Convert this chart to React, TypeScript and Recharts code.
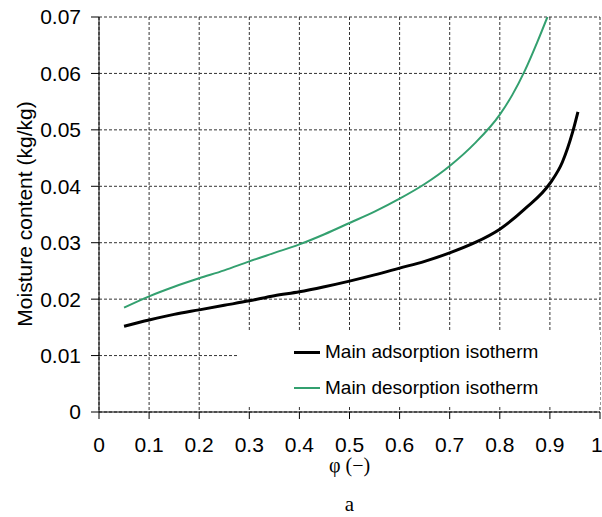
import {
  LineChart,
  Line,
  CartesianGrid,
  XAxis,
  YAxis,
  Legend,
  Label,
} from "recharts";

const adsorptionPhi = [0.05, 0.1, 0.15, 0.2, 0.25, 0.3, 0.35, 0.4, 0.45, 0.5, 0.55, 0.6, 0.65, 0.7, 0.75, 0.8, 0.85, 0.9, 0.925, 0.945, 0.956];
const adsorptionMc = [0.0152, 0.0163, 0.0173, 0.0181, 0.0189, 0.0197, 0.0206, 0.0213, 0.0222, 0.0232, 0.0243, 0.0255, 0.0267, 0.0282, 0.03, 0.0324, 0.036, 0.0405, 0.0443, 0.0495, 0.0532];

const desorptionPhi = [0.05, 0.1, 0.15, 0.2, 0.25, 0.3, 0.35, 0.4, 0.45, 0.5, 0.55, 0.6, 0.65, 0.7, 0.75, 0.8, 0.825, 0.85, 0.875, 0.895];
const desorptionMc = [0.0185, 0.0205, 0.0222, 0.0237, 0.0251, 0.0267, 0.0282, 0.0297, 0.0315, 0.0335, 0.0355, 0.0378, 0.0404, 0.0436, 0.0476, 0.0527, 0.0562, 0.0605, 0.0656, 0.07];

const xTicks = [0, 0.1, 0.2, 0.3, 0.4, 0.5, 0.6, 0.7, 0.8, 0.9, 1];
const yTicks = [0, 0.01, 0.02, 0.03, 0.04, 0.05, 0.06, 0.07];

const adsorption = adsorptionPhi.map((phi, i) => ({ phi, mc: adsorptionMc[i] }));
const desorption = desorptionPhi.map((phi, i) => ({ phi, mc: desorptionMc[i] }));

const FONT = "'Liberation Sans', Arial, sans-serif";
const GREEN = "#33a06f";

const fmtX = (v: number) => (v === 0 ? "0" : v === 1 ? "1" : v.toFixed(1));
const fmtY = (v: number) => (v === 0 ? "0" : v.toFixed(2));

// legend box sits over the lower right of the plot and hides the grid there
const IsothermLegend = () => (
  <div style={{ fontFamily: FONT, fontSize: 19, color: "#000", paddingLeft: 56, paddingTop: 9 }}>
    <div style={{ display: "flex", alignItems: "center", height: 22 }}>
      <span style={{ display: "inline-block", width: 26, height: 3, background: "#000", marginRight: 5 }} />
      Main adsorption isotherm
    </div>
    <div style={{ display: "flex", alignItems: "center", height: 22, marginTop: 14 }}>
      <span style={{ display: "inline-block", width: 26, height: 2, background: GREEN, marginRight: 5 }} />
      Main desorption isotherm
    </div>
  </div>
);

const App = () => {
  return (
    <div style={{ position: "absolute", left: 0, top: 0, background: "#fff" }}>
      <LineChart width={602} height={517} margin={{ top: 17, right: 2, bottom: 0, left: 0 }}>
        <CartesianGrid stroke="#333" strokeDasharray="3 2" />
        <XAxis
          dataKey="phi"
          type="number"
          domain={[0, 1]}
          ticks={xTicks}
          tickFormatter={fmtX}
          height={105}
          tickSize={7}
          tickMargin={18}
          stroke="#000"
          tick={{ fill: "#000", fontSize: 21, fontFamily: FONT }}
          allowDataOverflow
        >
          <Label
            content={({ viewBox }: any) => (
              <g>
                <text x={viewBox.x + viewBox.width / 2} y={viewBox.y + 60} textAnchor="middle" fontFamily="'Liberation Serif', serif" fontSize={20} fill="#000">
                  φ (−)
                </text>
                <text x={viewBox.x + viewBox.width / 2} y={viewBox.y + 99} textAnchor="middle" fontFamily="'Liberation Serif', serif" fontSize={21} fill="#000">
                  a
                </text>
              </g>
            )}
          />
        </XAxis>
        <YAxis
          type="number"
          domain={[0, 0.07]}
          ticks={yTicks}
          tickFormatter={fmtY}
          width={99}
          tickSize={8}
          tickMargin={10}
          stroke="#000"
          tick={{ fill: "#000", fontSize: 21, fontFamily: FONT }}
          allowDataOverflow
        >
          <Label
            content={() => (
              <text
                x={24}
                y={214}
                transform="rotate(-90, 24, 214)"
                textAnchor="middle"
                dominantBaseline="central"
                fontFamily={FONT}
                fontSize={21}
                fill="#000"
              >
                Moisture content (kg/kg)
              </text>
            )}
          />
        </YAxis>
        <Legend
          layout="vertical"
          align="center"
          verticalAlign="middle"
          content={<IsothermLegend />}
          wrapperStyle={{ left: 238, top: 332, width: 362, height: 74, background: "#fff" }}
        />
        <Line
          data={desorption}
          dataKey="mc"
          name="Main desorption isotherm"
          type="monotone"
          stroke={GREEN}
          strokeWidth={2}
          dot={false}
          isAnimationActive={false}
        />
        <Line
          data={adsorption}
          dataKey="mc"
          name="Main adsorption isotherm"
          type="monotone"
          stroke="#000"
          strokeWidth={3}
          dot={false}
          isAnimationActive={false}
        />
      </LineChart>
    </div>
  );
};

export default App;
